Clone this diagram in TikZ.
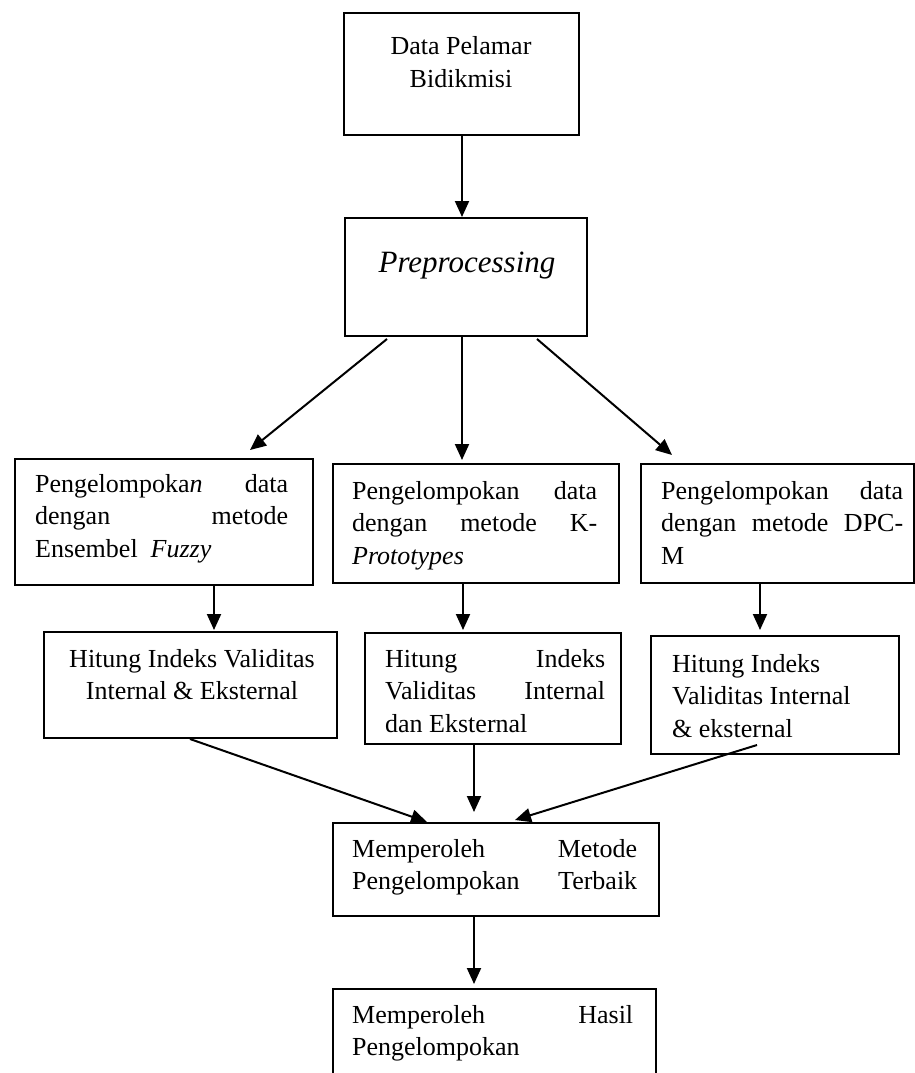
\documentclass[tikz,border=0pt]{standalone}
\usepackage{fontspec}
\setmainfont{Liberation Serif}
\usetikzlibrary{arrows.meta,calc}
\tikzset{
  box/.style={draw, line width=2pt, inner sep=0pt, anchor=north west},
  txt/.style={inner sep=0pt, font=\fontsize{26pt}{32.5pt}\selectfont},
  arr/.style={line width=2pt, -{Triangle[length=16pt,width=14pt]}}
}
\newcommand\mybox[5]{\node[box, minimum width=#4pt, minimum height=#5pt] (#1) at (#2,#3) {};}
\begin{document}
\begin{tikzpicture}[x=1pt,y=-1pt]
\useasboundingbox (0,0) rectangle (915,1073);
% boxes
\mybox{T}{343}{12}{235}{122}
\mybox{P}{344}{217}{242}{118}
\mybox{A}{14}{458}{298}{126}
\mybox{A2}{43}{631}{293}{106}
\mybox{B}{332}{463}{286}{119}
\mybox{B2}{364}{632}{256}{111}
\mybox{C}{640}{463}{273}{119}
\mybox{C2}{650}{635}{248}{118}
\mybox{D}{332}{822}{326}{93}
\mybox{E}{332}{988}{323}{100}
% texts
\node[txt, anchor=base] (tT) at (461,55) {\parbox[t]{220pt}{\centering Data Pelamar\\ Bidikmisi}};
\node[txt, anchor=base, font=\fontsize{31pt}{36pt}\selectfont\itshape] (tP) at (467,272) {Preprocessing};
\node[txt, anchor=base west] (tA) at (35,492) {\parbox[t]{253pt}{Pengelompoka\textit{n}\hfill data\\ dengan\hfill metode\\ Ensembel\ \ \textit{Fuzzy}}};
\node[txt, anchor=base] (tA2) at (192,667) {\parbox[t]{280pt}{\centering Hitung Indeks Validitas\\ Internal \& Eksternal}};
\node[txt, anchor=base west] (tB) at (352,499) {\parbox[t]{245pt}{Pengelompokan\hfill data\\ dengan\hfill metode\hfill K-\\ \textit{Prototypes}}};
\node[txt, anchor=base west] (tB2) at (385,667) {\parbox[t]{220pt}{Hitung\hfill Indeks\\ Validitas\hfill Internal\\ dan Eksternal}};
\node[txt, anchor=base west] (tC) at (661,499) {\parbox[t]{242pt}{Pengelompokan\hfill data\\ dengan\hfill metode\hfill DPC-\\ M}};
\node[txt, anchor=base west] (tC2) at (672,672) {\parbox[t]{220pt}{Hitung Indeks\\ Validitas Internal\\ \& eksternal}};
\node[txt, anchor=base west] (tD) at (352,857) {\parbox[t]{285pt}{Memperoleh\hfill Metode\\ Pengelompokan\hfill Terbaik}};
\node[txt, anchor=base west] (tE) at (352,1023) {\parbox[t]{281pt}{Memperoleh\hfill Hasil\\ Pengelompokan}};
% connectors
\draw[arr] ($(T.south west)+(119,0)$) -- ($(P.north west)+(118,0)$);
\draw[arr] ($(P.south west)+(43,2)$) -- ($(A.north west)+(236,-8)$);
\draw[arr] ($(P.south west)+(118,0)$) -- ($(B.north west)+(130,-3)$);
\draw[arr] ($(P.south west)+(193,2)$) -- ($(C.north west)+(32,-8)$);
\draw[arr] ($(A.south west)+(200,0)$) -- ($(A2.north west)+(171,-1)$);
\draw[arr] ($(B.south west)+(131,0)$) -- ($(B2.north west)+(99,-2)$);
\draw[arr] ($(C.south west)+(120,0)$) -- ($(C2.north west)+(110,-5)$);
\draw[arr] ($(A2.south west)+(147,0)$) -- ($(D.north west)+(95,0)$);
\draw[arr] ($(B2.south west)+(110,0)$) -- ($(D.north west)+(142,-10)$);
\draw[arr] ($(C2.south west)+(107,-10)$) -- ($(D.north west)+(183,-2)$);
\draw[arr] ($(D.south west)+(142,0)$) -- ($(E.north west)+(142,-4)$);
\end{tikzpicture}
\end{document}
